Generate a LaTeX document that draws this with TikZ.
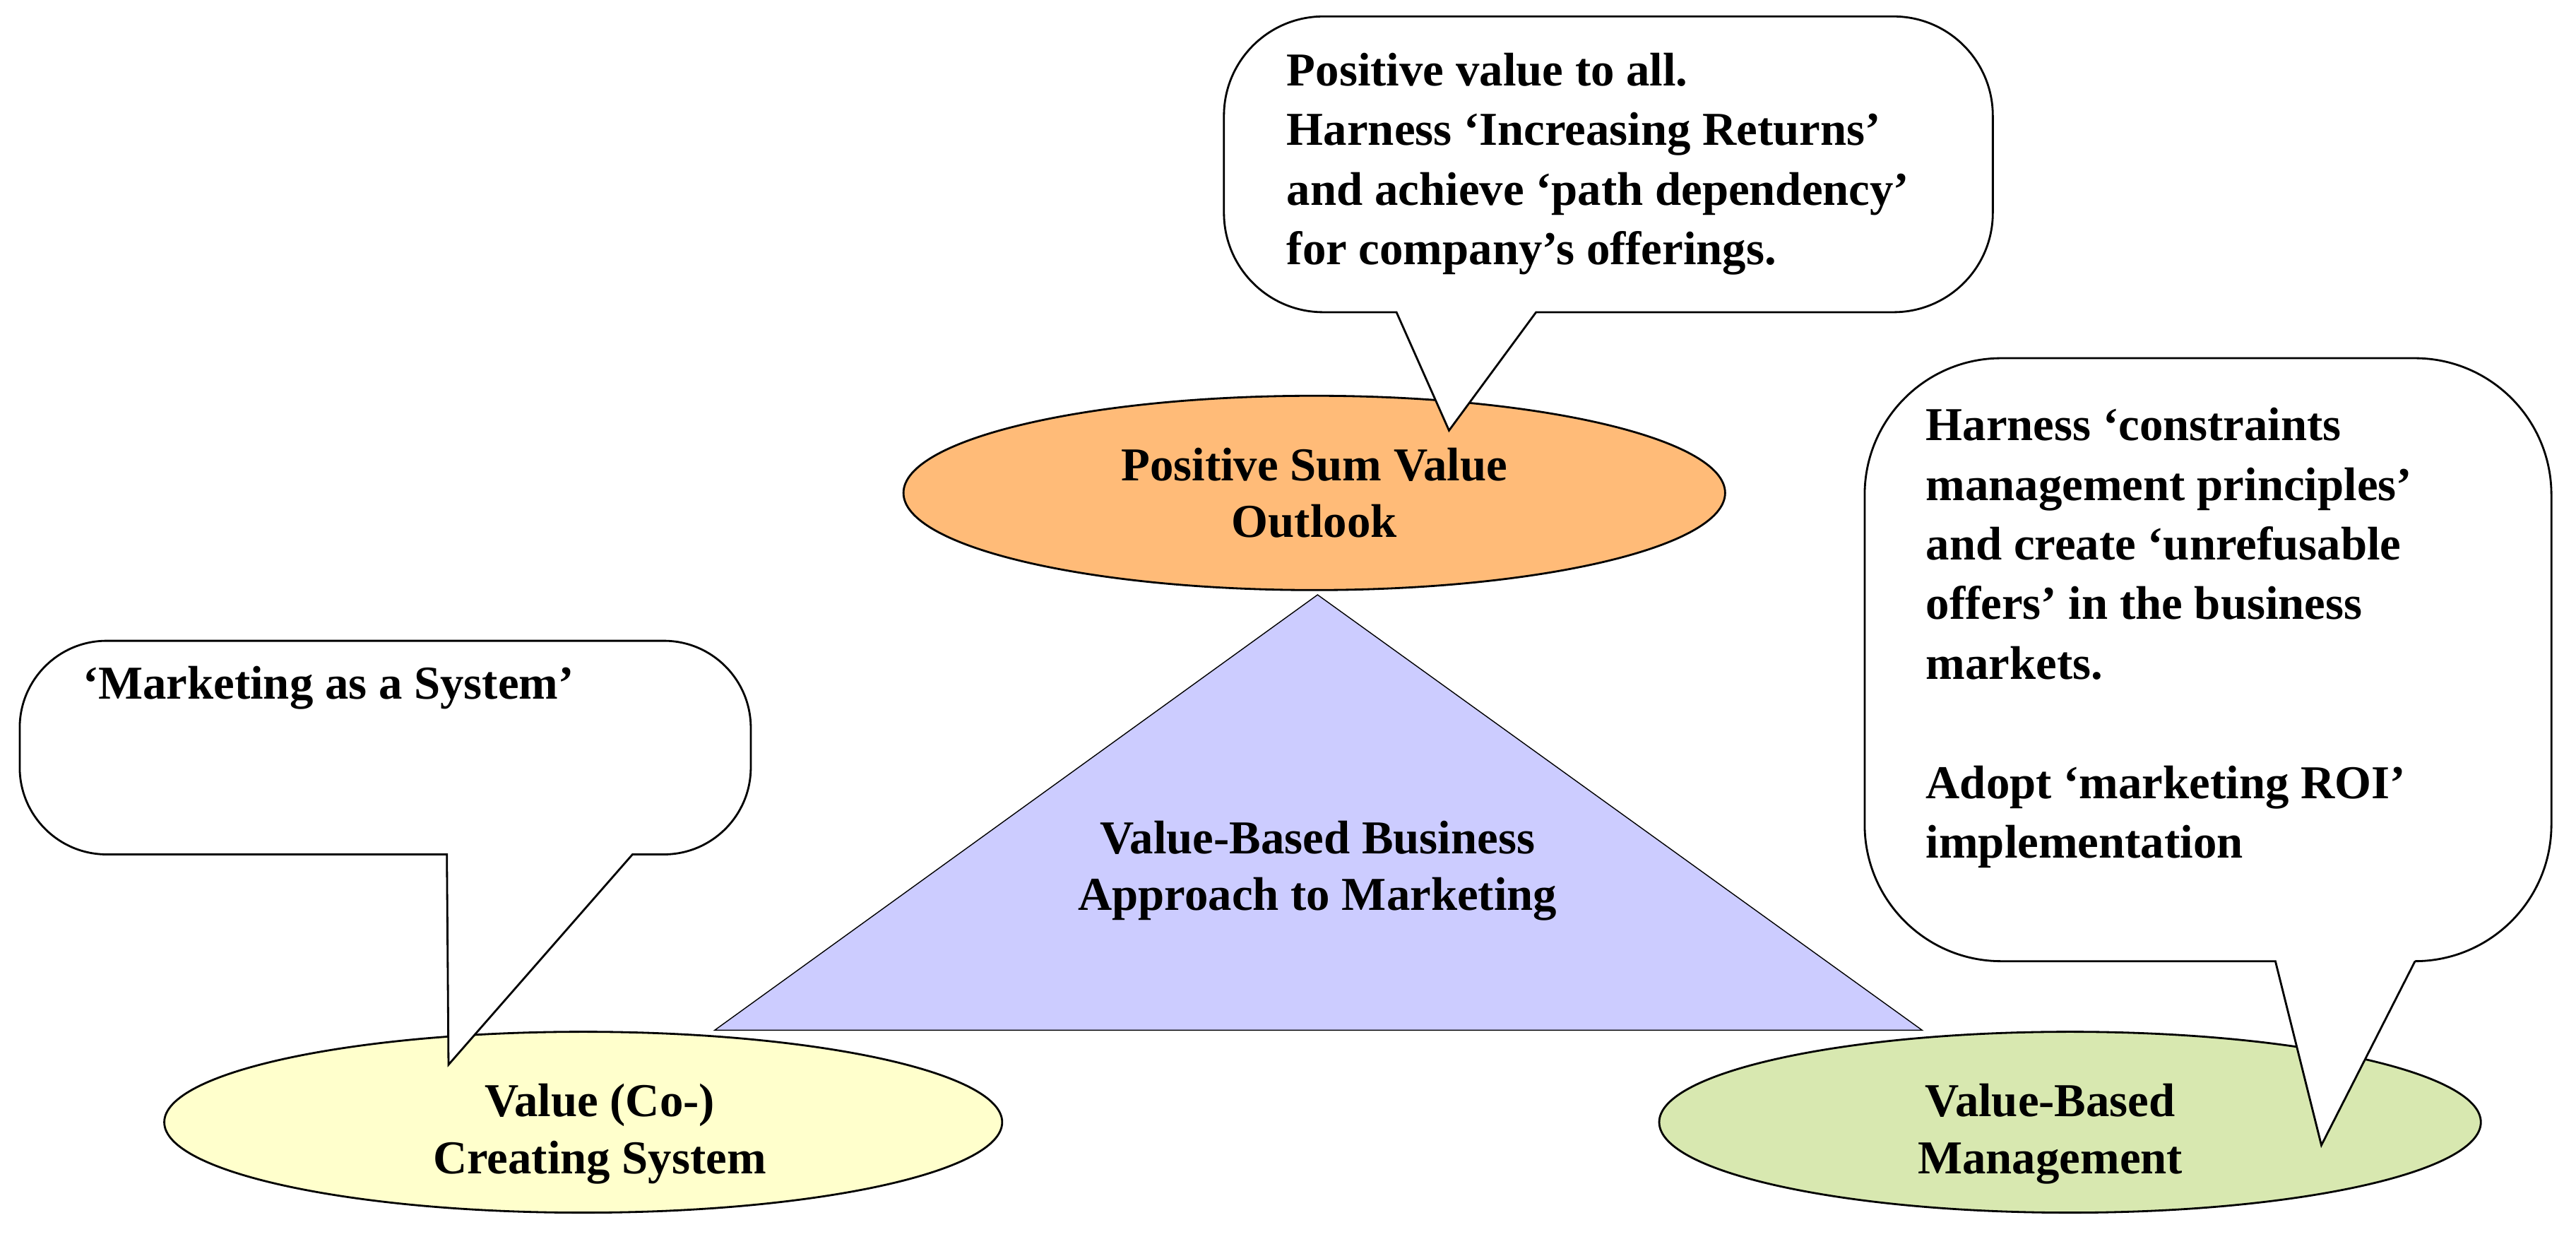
\documentclass[tikz,border=0pt]{standalone}
\usepackage{fontspec}
\setmainfont{Liberation Serif}
\usetikzlibrary{shapes.geometric}
\usetikzlibrary{positioning}
\definecolor{orangefill}{RGB}{255,187,120}
\definecolor{yellowfill}{RGB}{255,255,204}
\definecolor{greenfill}{RGB}{216,232,176}
\definecolor{lavfill}{RGB}{204,204,255}
\tikzset{
  oval/.style={draw, thick, ellipse, inner sep=0pt},
  ovaltext/.style={align=center, font=\fontsize{19}{23}\selectfont\bfseries},
  bubble/.style={draw, thick, fill=white},
  btext/.style={align=left, anchor=north west, font=\fontsize{19}{24}\selectfont\bfseries, inner sep=0pt}
}
\begin{document}
\begin{tikzpicture}[x=0.02326cm, y=-0.02326cm]
  \useasboundingbox (0,0) rectangle (1568,757);

  % ellipses
  \node[oval, fill=orangefill, minimum width=11.63cm, minimum height=2.75cm] (psv) at (800,300) {};
  \node[ovaltext] (psvtext) at (psv.center) {Positive Sum Value\\Outlook};

  \node[oval, fill=yellowfill, minimum width=11.86cm, minimum height=2.56cm] (vcs) at (355,683) {};
  \node[ovaltext] (vcstext) at (365,690) {Value (Co-)\\Creating System};

  \node[oval, fill=greenfill, minimum width=11.63cm, minimum height=2.56cm] (vbm) at (1260,683) {};
  \node[ovaltext] (vbmtext) at (1248,690) {Value-Based\\Management};

  % triangle
  \coordinate (apex) at (802,362);
  \coordinate (bl) at (435,627);
  \coordinate (br) at (1170,627);
  \draw[fill=lavfill] (apex) -- (bl) -- (br) -- cycle;
  \node[ovaltext] (vba) at (802,530) {Value-Based Business\\Approach to Marketing};

  % top callout
  \draw[bubble, rounded corners=40] (850,190) [sharp corners] -- (882,262) -- (935,190)
    [rounded corners=40] -- (1213,190) -- (1213,10) -- (745,10) -- (745,190) [sharp corners] -- cycle;
  \node[btext] (toptext) at (783,32) {Positive value to all.\\Harness `Increasing Returns'\\and achieve `path dependency'\\for company's offerings.};

  % left callout
  \draw[bubble, rounded corners=35] (272,520) [sharp corners] -- (273,648) -- (385,520)
    [rounded corners=35] -- (457,520) -- (457,390) -- (12,390) -- (12,520) [sharp corners] -- cycle;
  \node[btext] (lefttext) at (50,405) {`Marketing as a System'};

  % right callout
  \draw[bubble, rounded corners=55] (1385,585) [sharp corners] -- (1413,697) -- (1470,585)
    [rounded corners=55] -- (1553,585) -- (1553,218) -- (1135,218) -- (1135,585) [sharp corners] -- cycle;
  \node[btext] (righttext) at (1172,248) {Harness `constraints\\management principles'\\and create `unrefusable\\offers' in the business\\markets.\\[24pt]Adopt `marketing ROI'\\implementation};
\end{tikzpicture}
\end{document}
